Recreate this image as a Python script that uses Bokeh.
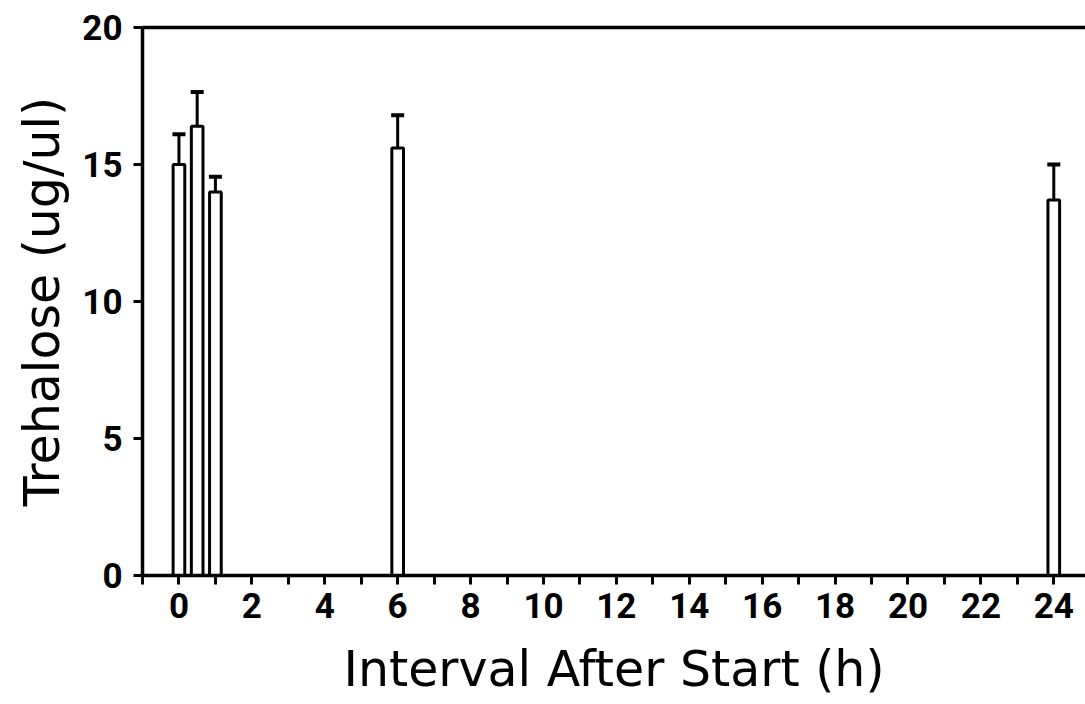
from bokeh.plotting import figure
from bokeh.models import (ColumnDataSource, Range1d, FixedTicker, LinearAxis,
                          Whisker, TeeHead)
from bokeh.embed import file_html
from bokeh.resources import INLINE

# ---- data ----
times_h = [0, 0.5, 1, 6, 24]
trehalose = [15.0, 16.4, 14.0, 15.6, 13.7]
error = [1.1, 1.25, 0.55, 1.2, 1.3]
x_major_ticks = [0, 2, 4, 6, 8, 10, 12, 14, 16, 18, 20, 22, 24]
x_minor_ticks = [-1, 1, 3, 5, 7, 9, 11, 13, 15, 17, 19, 21, 23]
y_ticks = [0, 5, 10, 15, 20]

upper = [v + e for v, e in zip(trehalose, error)]
src = ColumnDataSource(dict(x=times_h, top=trehalose, upper=upper))

TICK_FONT = "Roboto"
LABEL_FONT = "DejaVu Sans"

p = figure(width=1085, height=704, output_backend="svg", toolbar_location=None,
           x_range=Range1d(-1, 24.87), y_range=Range1d(0, 20),
           min_border_left=142, min_border_right=0, min_border_top=27,
           min_border_bottom=129, background_fill_color="white",
           border_fill_color="white")
p.outline_line_color = None
p.xgrid.visible = False
p.ygrid.visible = False

p.vbar(x="x", top="top", bottom=0, width=0.32, source=src,
       fill_color="white", line_color="black", line_width=3)

w = Whisker(base="x", lower="top", upper="upper", source=src,
            line_color="black", line_width=3, lower_head=None,
            upper_head=TeeHead(size=13, line_color="black", line_width=4))
p.add_layout(w)

xa = p.xaxis[0]
xa.ticker = FixedTicker(ticks=x_major_ticks, minor_ticks=x_minor_ticks)
xa.axis_label = "Interval After Start (h)"

ya = p.yaxis[0]
ya.ticker = FixedTicker(ticks=y_ticks)
ya.axis_label = "Trehalose (ug/ul)"

for ax in (xa, ya):
    ax.axis_line_width = 3.5
    ax.axis_line_color = "black"
    ax.major_tick_line_width = 3
    ax.major_tick_line_color = "black"
    ax.major_tick_in = 0
    ax.major_tick_out = 9
    ax.minor_tick_line_width = 3
    ax.minor_tick_line_color = "black"
    ax.minor_tick_in = 0
    ax.minor_tick_out = 9
    ax.major_label_text_font = TICK_FONT
    ax.major_label_text_font_style = "bold"
    ax.major_label_text_font_size = "35px"
    ax.major_label_text_color = "black"
    ax.axis_label_text_font = LABEL_FONT
    ax.axis_label_text_font_style = "normal"
    ax.axis_label_text_font_size = "49px"
    ax.axis_label_text_color = "black"

ya.minor_tick_line_color = None
ya.major_label_standoff = 11
ya.axis_label_standoff = 8
xa.major_label_standoff = 8
xa.axis_label_standoff = 20

top = LinearAxis(ticker=FixedTicker(ticks=[]), axis_line_width=3.5,
                 axis_line_color="black", major_label_text_font_size="0px")
top.minor_tick_line_color = None
top.major_tick_line_color = None
p.add_layout(top, "above")

open("out.html", "w").write(file_html(p, INLINE))
